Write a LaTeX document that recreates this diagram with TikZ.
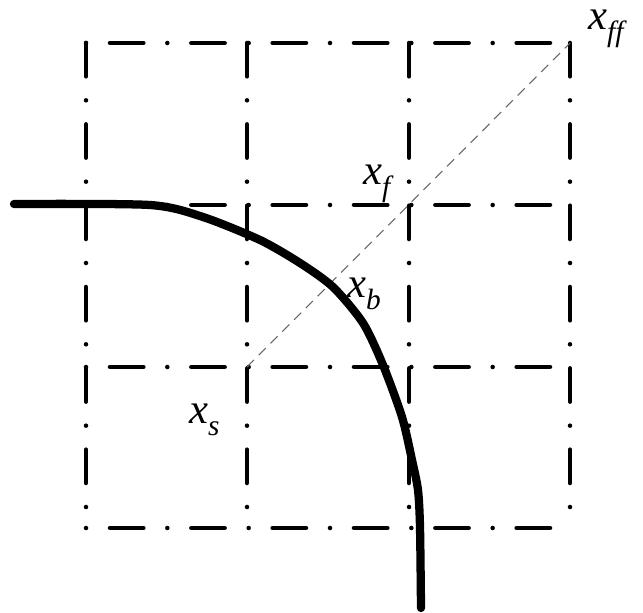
\documentclass[tikz,border=0pt]{standalone}
\usepackage{fontspec}
\setmainfont{Liberation Serif}
\newfontfamily\lblfont{Liberation Serif}[UprightFont=* Italic]
\begin{document}
\begin{tikzpicture}[x=0.75pt,y=-0.75pt,
  gridh/.style={line width=3.4pt,line cap=round,dash pattern=on 0pt off 18pt on 25pt off 18pt},
  gridv/.style={line width=3.4pt,line cap=round,dash pattern=on 25pt off 18pt on 0pt off 18pt},
  diag/.style={line width=0.8pt,black!60,dash pattern=on 7.5pt off 5pt},
  front/.style={line width=6.2pt,line cap=round,line join=round},
  lbl/.style={anchor=base west,inner sep=0pt,font=\fontsize{32}{32}\selectfont\lblfont}]
\useasboundingbox (0,0) rectangle (643,613);
% grid corner coordinates
\coordinate (xs) at (247,367);
\coordinate (xf) at (409,205);
\coordinate (xff) at (570,43);
\foreach \y in {43,205,367,528} {
  \draw[gridh] (86,\y) -- (570,\y);
}
\foreach \x in {86,247,409,570} {
  \draw[gridv] (\x,43) -- (\x,528);
}
% diagonal
\draw[diag] (xs) -- (xff);
% front curve
\draw[front] plot[smooth,tension=0.45] coordinates {(14,204) (150,205) (203,217) (260,240) (300,263) (333,287) (363,323) (383,365) (402,417) (412,460) (418,490) (420,527) (421,608)};
% labels
\newcommand{\subl}[1]{\raisebox{-9pt}{\fontsize{22}{22}\selectfont #1}}
\node[lbl] (lff) at (588,30) {x\subl{ff}};
\node[lbl] (lf) at (363,185) {x\subl{f}};
\node[lbl] (lb) at (347,297) {x\subl{b}};
\node[lbl] (ls) at (189,423) {x\subl{s}};
\end{tikzpicture}
\end{document}
